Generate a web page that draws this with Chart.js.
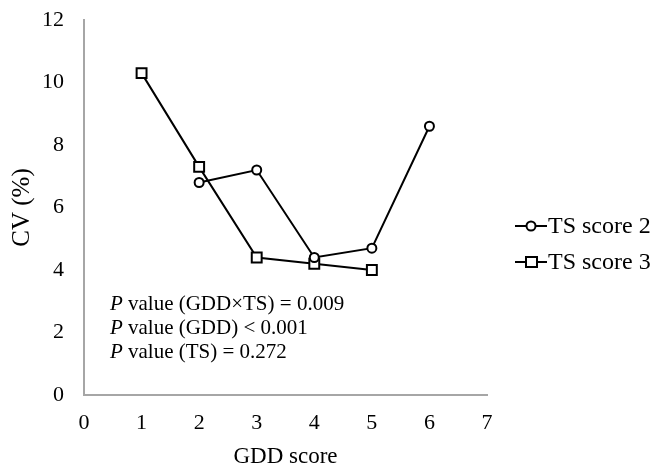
<!DOCTYPE html>
<html lang="en">
<head>
    <meta charset="UTF-8">
    <title>CV by GDD score</title>
    <script src="https://cdn.jsdelivr.net/npm/chart.js"></script>
    <style>
        body { margin: 0; background: #fff; }
    </style>
</head>
<body>
    <canvas id="chart" width="656" height="468"></canvas>
    <script>
        // data
        const gddTS2 = [2, 3, 4, 5, 6];
        const cvTS2 = [6.8, 7.2, 4.4, 4.7, 8.6];
        const gddTS3 = [1, 2, 3, 4, 5];
        const cvTS3 = [10.3, 7.3, 4.4, 4.2, 4.0];
        const seriesNames = ['TS score 2', 'TS score 3'];
        const pNotes = [
            ' value (GDD×TS) = 0.009',
            ' value (GDD) < 0.001',
            ' value (TS) = 0.272'
        ];

        const serif = '"Liberation Serif", "Times New Roman", serif';
        const toPoints = (xs, ys) => xs.map((x, i) => ({ x: x, y: ys[i] }));

        // legend on the right: line + marker + name
        const sideLegend = {
            id: 'sideLegend',
            afterDraw(chart) {
                const ctx = chart.ctx;
                const rows = [226, 262];
                chart.data.datasets.forEach((ds, i) => {
                    const y = rows[i];
                    ctx.save();
                    ctx.strokeStyle = '#000';
                    ctx.lineWidth = 2;
                    ctx.beginPath();
                    ctx.moveTo(515, y);
                    ctx.lineTo(547, y);
                    ctx.stroke();
                    ctx.fillStyle = '#fff';
                    ctx.beginPath();
                    if (ds.pointStyle === 'rect') {
                        ctx.rect(526, y - 5, 11, 10);
                    } else {
                        ctx.arc(531, y, 4.5, 0, Math.PI * 2);
                    }
                    ctx.fill();
                    ctx.stroke();
                    ctx.fillStyle = '#000';
                    ctx.font = '24px ' + serif;
                    ctx.textBaseline = 'middle';
                    ctx.fillText(ds.label, 548, y + 1);
                    ctx.restore();
                });
            }
        };

        // P value notes inside the plot
        const pValues = {
            id: 'pValues',
            afterDraw(chart) {
                const ctx = chart.ctx;
                const x0 = chart.scales.x.getPixelForValue(0.45);
                const y0 = chart.scales.y.getPixelForValue(2.9);
                ctx.save();
                ctx.fillStyle = '#000';
                ctx.textBaseline = 'middle';
                pNotes.forEach((txt, i) => {
                    const y = y0 + i * 24;
                    ctx.font = 'italic 21px ' + serif;
                    ctx.fillText('P', x0, y);
                    const w = ctx.measureText('P').width;
                    ctx.font = '21px ' + serif;
                    ctx.fillText(txt, x0 + w, y);
                });
                ctx.restore();
            }
        };

        const ctx = document.getElementById('chart').getContext('2d');
        const myChart = new Chart(ctx, {
            type: 'line',
            data: {
                datasets: [{
                    label: seriesNames[0],
                    data: toPoints(gddTS2, cvTS2),
                    borderColor: '#000',
                    borderWidth: 2,
                    pointStyle: 'circle',
                    pointRadius: 4.5,
                    pointBorderWidth: 2,
                    pointBackgroundColor: '#fff',
                    pointBorderColor: '#000'
                }, {
                    label: seriesNames[1],
                    data: toPoints(gddTS3, cvTS3),
                    borderColor: '#000',
                    borderWidth: 2,
                    pointStyle: 'rect',
                    pointRadius: 7,
                    pointBorderWidth: 2,
                    pointBackgroundColor: '#fff',
                    pointBorderColor: '#000'
                }]
            },
            options: {
                responsive: false,
                animation: false,
                layout: { padding: { top: 20, right: 169, left: 0, bottom: 0 } },
                plugins: {
                    legend: { display: false },
                    tooltip: { enabled: false }
                },
                scales: {
                    x: {
                        type: 'linear',
                        min: 0,
                        max: 7,
                        ticks: { stepSize: 1, padding: 15, color: '#000', font: { family: serif, size: 22 } },
                        grid: { display: false, drawTicks: false },
                        border: { display: true, color: '#a6a6a6', width: 2 },
                        title: {
                            display: true,
                            text: 'GDD score',
                            color: '#000',
                            font: { family: serif, size: 23, lineHeight: 1 },
                            padding: { top: 0, bottom: 0 }
                        },
                        afterFit(scale) {
                            scale.height = 73;
                            scale.paddingLeft = 0;
                            scale.paddingRight = 0;
                        }
                    },
                    y: {
                        min: 0,
                        max: 12,
                        ticks: { stepSize: 2, padding: 20, color: '#000', font: { family: serif, size: 22 } },
                        grid: { display: false, drawTicks: false },
                        border: { display: true, color: '#a6a6a6', width: 2 },
                        title: {
                            display: true,
                            text: 'CV (%)',
                            color: '#000',
                            font: { family: serif, size: 25, lineHeight: 1 },
                            padding: { top: 10, bottom: 0 }
                        },
                        afterFit(scale) {
                            scale.width = 84;
                            scale.paddingTop = 0;
                            scale.paddingBottom = 0;
                        }
                    }
                }
            },
            plugins: [sideLegend, pValues]
        });
    </script>
</body>
</html>
